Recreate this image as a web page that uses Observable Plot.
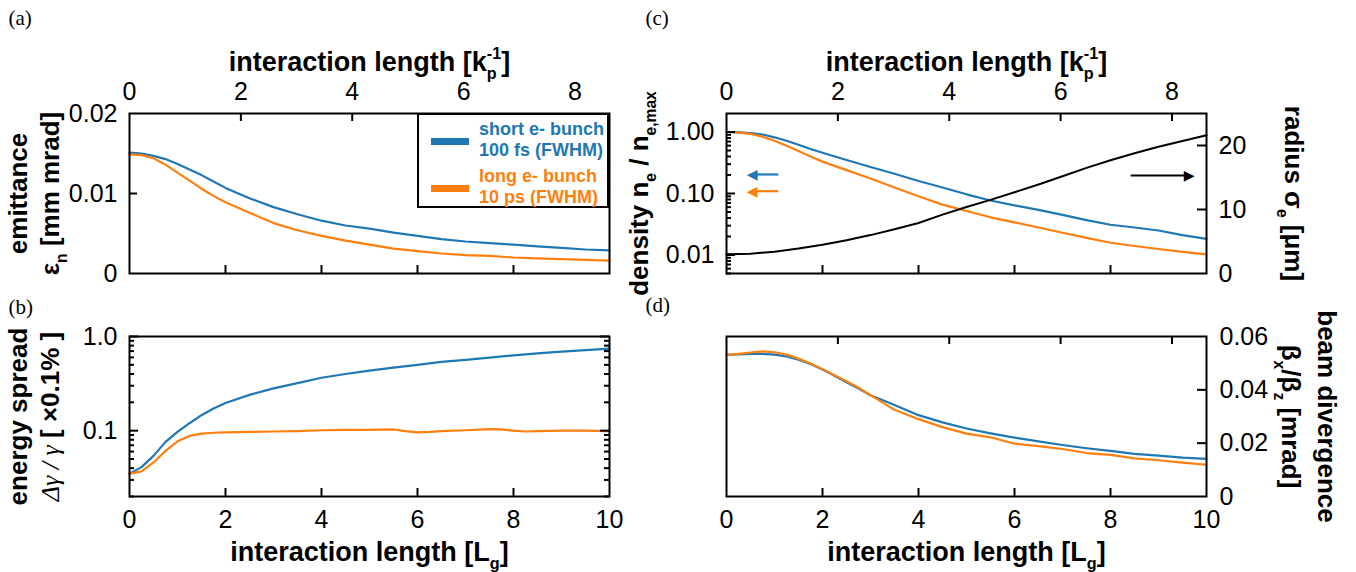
<!DOCTYPE html>
<html><head><meta charset="utf-8">
<script src="https://cdn.jsdelivr.net/npm/d3@7"></script>
<script src="https://cdn.jsdelivr.net/npm/@observablehq/plot@0.6"></script>
<style>
html,body{margin:0;padding:0;background:#fff;}
#chart{position:relative;width:1356px;height:572px;overflow:hidden;background:#fff;}
#chart svg{position:absolute;left:0;top:0;}
#legend{position:absolute;left:417px;top:113px;width:192px;height:95px;box-sizing:border-box;border:2px solid #000;background:#fff;font-family:'Liberation Sans',Arial,sans-serif;font-weight:bold;font-size:18px;line-height:21px;}
#legend .sw{position:absolute;left:12px;width:38px;height:7px;}
#legend .tx{position:absolute;left:60px;white-space:nowrap;}
</style></head><body>
<div id="chart"></div>
<script>
// ---------------- data ----------------
const seriesNames = ["short e- bunch", "100 fs (FWHM)", "long e- bunch", "10 ps (FWHM)"];
const lgGrid = [0,0.25,0.5,0.75,1,1.25,1.5,1.75,2,2.5,3,3.5,4,4.5,5,5.5,6,6.5,7,7.5,8,8.5,9,9.5,10];
// (a) emittance [mm mrad]
const emitShort = [0.0151,0.0150,0.0147,0.0143,0.0137,0.0130,0.0123,0.0115,0.0107,0.0094,0.0083,0.0074,0.0066,0.0060,0.0056,0.0051,0.0047,0.0043,0.0040,0.0038,0.0036,0.0034,0.0032,0.0030,0.0029];
const emitLong  = [0.0149,0.0148,0.0144,0.0136,0.0126,0.0116,0.0106,0.0097,0.0089,0.0076,0.0063,0.0054,0.0047,0.0041,0.0036,0.0031,0.0028,0.0025,0.0023,0.0022,0.0020,0.0019,0.0018,0.0017,0.0016];
// (b) energy spread
const spreadShort = [0.035,0.041,0.054,0.076,0.097,0.120,0.146,0.172,0.197,0.240,0.281,0.320,0.365,0.400,0.435,0.468,0.500,0.537,0.565,0.597,0.630,0.662,0.690,0.717,0.745];
const lgSpreadLong = [0,0.25,0.5,0.75,1,1.25,1.5,1.75,2,2.5,3,3.5,4,4.5,5,5.5,5.75,6,6.25,6.5,7,7.5,7.75,8,8.25,8.5,9,9.5,10];
const spreadLong = [0.035,0.037,0.046,0.061,0.077,0.088,0.093,0.095,0.096,0.097,0.098,0.099,0.101,0.102,0.102,0.103,0.099,0.096,0.097,0.099,0.101,0.104,0.103,0.100,0.098,0.099,0.100,0.100,0.099];
// (c) density n_e/n_e,max and radius sigma_e
const densShort = [1.0,0.99,0.96,0.91,0.82,0.72,0.62,0.53,0.46,0.35,0.27,0.21,0.16,0.125,0.097,0.077,0.064,0.054,0.045,0.037,0.031,0.028,0.025,0.021,0.0183];
const densLong  = [1.0,0.98,0.93,0.84,0.72,0.60,0.49,0.40,0.33,0.24,0.175,0.125,0.090,0.066,0.052,0.041,0.034,0.028,0.023,0.019,0.0158,0.0140,0.0125,0.0112,0.0102];
const lgRadius = [0,0.5,1,1.5,2,2.5,3,3.5,4,4.5,5,5.5,6,6.5,7,7.5,8,8.5,9,9.5,10];
const radius = [3.0,3.1,3.4,3.9,4.5,5.2,6.0,6.9,7.9,9.2,10.4,11.5,12.7,13.9,15.2,16.5,17.7,18.8,19.8,20.7,21.6];
// (d) beam divergence [mrad]
const lgDiv = [0,0.25,0.5,0.75,1,1.25,1.5,1.75,2,2.25,2.5,2.75,3,3.5,4,4.5,5,5.5,6,6.5,7,7.5,8,8.5,9,9.5,10];
const divShort = [0.0531,0.0533,0.0535,0.0535,0.0532,0.0525,0.0513,0.0497,0.0476,0.0453,0.0428,0.0405,0.0380,0.0343,0.0305,0.0278,0.0255,0.0237,0.0221,0.0207,0.0193,0.0181,0.0171,0.0160,0.0153,0.0146,0.0141];
const divLong  = [0.0531,0.0535,0.0540,0.0544,0.0541,0.0532,0.0517,0.0499,0.0477,0.0455,0.0432,0.0408,0.0380,0.0325,0.0290,0.0260,0.0236,0.0222,0.0198,0.0189,0.0178,0.0163,0.0156,0.0143,0.0136,0.0127,0.0119];
// arrows in (c): [tail x, head x, y]
const arrowShort = [{x1:1.08, x2:0.42, y:0.204}];
const arrowLong  = [{x1:1.08, x2:0.42, y:0.109}];
const arrowRadius = [{x1:8.42, x2:9.75, y:15.3}];
// ticks
const lgTicks = [0,2,4,6,8,10];
const lgInner = [2,4,6,8];
const kpTicks = [0,2,4,6,8];
const kpInner = [2,4,6,8];
const kpMax = 8.62;
const emitTicks = [0,0.01,0.02];
const spreadMajor = [0.1,1];
const spreadMinor = [0.02,0.03,0.04,0.05,0.06,0.07,0.08,0.09,0.2,0.3,0.4,0.5,0.6,0.7,0.8,0.9];
const densMajor = [0.01,0.1,1];
const densMinor = [0.005,0.006,0.007,0.008,0.009,0.02,0.03,0.04,0.05,0.06,0.07,0.08,0.09,0.2,0.3,0.4,0.5,0.6,0.7,0.8,0.9];
const radiusTicks = [0,10,20];
const divTicks = [0,0.02,0.04,0.06];

// ---------------- layout ----------------
const BLUE = "#1f77b4", ORANGE = "#ff7f0e";
const W = 1356, H = 572, FW = 480, FH = 160;
const FONT = "'Liberation Sans', Arial, Helvetica, sans-serif";
const SERIF = "'Liberation Serif', 'DejaVu Serif', serif";
const LT = {l:129, r:609, t:113, b:273};
const LB = {l:129, r:609, t:336, b:496};
const RT = {l:726, r:1206, t:113, b:273};
const RB = {l:726, r:1206, t:336, b:496};
const tbl = (xs, ys) => xs.map((x, i) => ({x, y: ys[i]}));

function layer(fr, opts) {
  return Plot.plot({
    width: W, height: H,
    marginLeft: fr.l, marginRight: W - fr.r, marginTop: fr.t, marginBottom: H - fr.b,
    style: {fontFamily: FONT, fontSize: "25px", background: "transparent", overflow: "visible"},
    ...opts
  });
}
// inward tick marks as short rules; their length is converted from pixels through each scale's domain
const K = {stroke: "black", strokeWidth: 2};
const xAt = (xd, px) => xd[0] + (xd[1] - xd[0]) * px / FW;
const yAt = (yd, log, px) => log ? yd[0] * Math.pow(yd[1] / yd[0], px / FH) : yd[0] + (yd[1] - yd[0]) * px / FH;
const tL = (v, len, xd) => Plot.ruleY(v, {y: d => d, x1: xd[0], x2: xAt(xd, len), ...K});
const tR = (v, len, xd) => Plot.ruleY(v, {y: d => d, x1: xAt(xd, FW - len), x2: xd[1], ...K});
const tT = (v, len, yd, log) => Plot.ruleX(v, {x: d => d, y1: yd[1], y2: yAt(yd, log, FH - len), ...K});
const tB = (v, len, yd, log) => Plot.ruleX(v, {x: d => d, y1: yd[0], y2: yAt(yd, log, len), ...K});
const title = (s, anchor, dx, dy, rot, size = 26) => Plot.text([s], {text: d => d, frameAnchor: anchor, dx, dy, rotate: rot, fontWeight: "bold", fontSize: size, textAnchor: "middle", lineAnchor: "middle"});
const plabel = (s, dx, dy) => Plot.text([s], {text: d => d, frameAnchor: "top-left", dx, dy, fontFamily: SERIF, fontSize: 21, textAnchor: "start", lineAnchor: "middle"});
const f2 = d => d === 0 ? "0" : d.toFixed(2);
const line = (data, color) => Plot.line(data, {x: "x", y: "y", stroke: color, strokeWidth: 2.2});

const X10 = [0, 10], XKP = [0, kpMax], Y01 = [0, 1];
const YA = [0, 0.02], YB = [0.02, 1], YC = [0.005, 2], YC2 = [0, 25], YD = [0, 0.06];

const plots = [];
// (a)
plots.push(layer(LT, {
  x: {domain: X10, axis: null},
  y: {domain: YA},
  marks: [
    line(tbl(lgGrid, emitShort), BLUE),
    line(tbl(lgGrid, emitLong), ORANGE),
    Plot.frame({stroke: "black", strokeWidth: 2}),
    Plot.axisY(emitTicks, {anchor: "left", tickSize: 0, tickPadding: 12, tickFormat: f2, label: null}),
    tL([0.01], 8, X10), tR([0.01], 8, X10), tB(lgInner, 8, YA, false),
    title("emittance", "left", -111, 0, -90),
    title("ε_{n} [mm mrad]", "left", -79, 0, -90),
    plabel("(a)", -121, -95)
  ]
}));
plots.push(layer(LT, {
  x: {domain: XKP},
  y: {domain: Y01, axis: null},
  marks: [
    Plot.axisX(kpTicks, {anchor: "top", tickSize: 0, tickPadding: 14, label: null}),
    tT(kpInner, 8, Y01, false),
    title("interaction length [k_{p}^{-1}]", "top", 0, -51, 0, 27)
  ]
}));
// (b)
plots.push(layer(LB, {
  x: {domain: X10},
  y: {type: "log", domain: YB},
  marks: [
    line(tbl(lgGrid, spreadShort), BLUE),
    line(tbl(lgSpreadLong, spreadLong), ORANGE),
    Plot.frame({stroke: "black", strokeWidth: 2}),
    Plot.axisY(spreadMajor, {anchor: "left", tickSize: 0, tickPadding: 12, tickFormat: d => d.toFixed(1), label: null}),
    Plot.axisX(lgTicks, {anchor: "bottom", tickSize: 0, tickPadding: 14, label: null}),
    tL(spreadMajor, 9, X10), tL(spreadMinor, 5, X10), tR(spreadMajor, 9, X10), tR(spreadMinor, 5, X10), tB(lgInner, 8, YB, true),
    title("energy spread", "left", -111, 0, -90),
    title("*{Δγ / γ} [ ×0.1% ]", "left", -79, 0, -90),
    title("interaction length [L_{g}]", "bottom", 0, 56, 0, 27),
    plabel("(b)", -121, -29)
  ]
}));
// (c)
plots.push(layer(RT, {
  x: {domain: X10, axis: null},
  y: {type: "log", domain: YC},
  marks: [
    line(tbl(lgGrid, densShort), BLUE),
    line(tbl(lgGrid, densLong), ORANGE),
    Plot.frame({stroke: "black", strokeWidth: 2}),
    Plot.axisY(densMajor, {anchor: "left", tickSize: 0, tickPadding: 12, tickFormat: d => d.toFixed(2), label: null}),
    tL(densMajor, 9, X10), tL(densMinor, 5, X10), tB(lgInner, 8, YC, true),
    Plot.link(arrowShort, {x1: "x1", x2: d => d.x2 + 0.1, y1: "y", y2: "y", stroke: BLUE, strokeWidth: 2.2}),
    Plot.text(arrowShort, {x: "x2", y: "y", text: () => "◀", fill: BLUE, fontFamily: "DejaVu Sans", fontSize: 14, textAnchor: "start", lineAnchor: "middle"}),
    Plot.link(arrowLong, {x1: "x1", x2: d => d.x2 + 0.1, y1: "y", y2: "y", stroke: ORANGE, strokeWidth: 2.2}),
    Plot.text(arrowLong, {x: "x2", y: "y", text: () => "◀", fill: ORANGE, fontFamily: "DejaVu Sans", fontSize: 14, textAnchor: "start", lineAnchor: "middle"}),
    title("density n_{e} / n_{e,max}", "left", -87, 0, -90),
    plabel("(c)", -81, -95)
  ]
}));
plots.push(layer(RT, {
  x: {domain: X10, axis: null},
  y: {domain: YC2},
  marks: [
    Plot.line(tbl(lgRadius, radius), {x: "x", y: "y", stroke: "black", strokeWidth: 2}),
    Plot.axisY(radiusTicks, {anchor: "right", tickSize: 0, tickPadding: 12, label: null}),
    tR([10, 20], 9, X10),
    Plot.link(arrowRadius, {x1: "x1", x2: d => d.x2 - 0.1, y1: "y", y2: "y", stroke: "black", strokeWidth: 2}),
    Plot.text(arrowRadius, {x: "x2", y: "y", text: () => "▶", fill: "black", fontFamily: "DejaVu Sans", fontSize: 14, textAnchor: "end", lineAnchor: "middle"}),
    title("radius σ_{e} [μm]", "right", 87, 0, 90)
  ]
}));
plots.push(layer(RT, {
  x: {domain: XKP},
  y: {domain: Y01, axis: null},
  marks: [
    Plot.axisX(kpTicks, {anchor: "top", tickSize: 0, tickPadding: 14, label: null}),
    tT(kpInner, 8, Y01, false),
    title("interaction length [k_{p}^{-1}]", "top", 0, -51, 0, 27)
  ]
}));
// (d)
plots.push(layer(RB, {
  x: {domain: X10},
  y: {domain: YD},
  marks: [
    line(tbl(lgDiv, divShort), BLUE),
    line(tbl(lgDiv, divLong), ORANGE),
    Plot.frame({stroke: "black", strokeWidth: 2}),
    Plot.axisY(divTicks, {anchor: "right", tickSize: 0, tickPadding: 13, tickFormat: f2, label: null}),
    Plot.axisX(lgTicks, {anchor: "bottom", tickSize: 0, tickPadding: 14, label: null}),
    tR([0.02, 0.04], 9, X10), tB(lgInner, 8, YD, false),
    title("β_{x}/β_{z} [mrad]", "right", 84, 0, 90),
    title("beam divergence", "right", 120, 0, 90),
    title("interaction length [L_{g}]", "bottom", 0, 56, 0, 27),
    plabel("(d)", -81, -31)
  ]
}));
plots.push(layer(RB, {
  x: {domain: XKP, axis: null},
  y: {domain: Y01, axis: null},
  marks: [tT(kpInner, 8, Y01, false)]
}));

const chart = document.getElementById("chart");
plots.forEach(p => chart.appendChild(p));

// legend
const lg = document.createElement("div");
lg.id = "legend";
lg.innerHTML =
  `<div class="sw" style="top:23px;background:${BLUE}"></div>` +
  `<div class="tx" style="top:4px;color:${BLUE}">${seriesNames[0]}<br>${seriesNames[1]}</div>` +
  `<div class="sw" style="top:70px;background:${ORANGE}"></div>` +
  `<div class="tx" style="top:51px;color:${ORANGE}">${seriesNames[2]}<br>${seriesNames[3]}</div>`;
chart.appendChild(lg);

// rich text: _{sub} ^{sup} *{serif italic}
const NS = "http://www.w3.org/2000/svg";
chart.querySelectorAll("text").forEach(t => {
  const s = t.textContent;
  if (!/[_^*]\{/.test(s)) return;
  const F = parseFloat(getComputedStyle(t).fontSize) || 24;
  while (t.firstChild) t.removeChild(t.firstChild);
  const re = /([_^*])\{([^}]*)\}/g;
  let pos = 0, cur = 0, m, prev = null;
  const add = (str, kind) => {
    if (!str) return;
    const ts = document.createElementNS(NS, "tspan");
    ts.textContent = str;
    let target = 0;
    if (kind === "_") { target = 0.3 * F; ts.setAttribute("font-size", (0.6 * F) + "px"); }
    else if (kind === "^") {
      target = -0.45 * F; ts.setAttribute("font-size", (0.6 * F) + "px");
      if (prev && prev.kind === "_") ts.setAttribute("dx", -prev.el.getComputedTextLength());
    } else if (kind === "*") {
      ts.setAttribute("font-family", SERIF); ts.setAttribute("font-weight", "normal"); ts.setAttribute("font-style", "italic");
    }
    const dy = target - cur;
    if (dy) ts.setAttribute("dy", dy);
    cur = target;
    t.appendChild(ts);
    prev = {kind, el: ts};
  };
  while ((m = re.exec(s))) { add(s.slice(pos, m.index), ""); add(m[2], m[1]); pos = re.lastIndex; }
  add(s.slice(pos), "");
});
</script>
</body></html>
